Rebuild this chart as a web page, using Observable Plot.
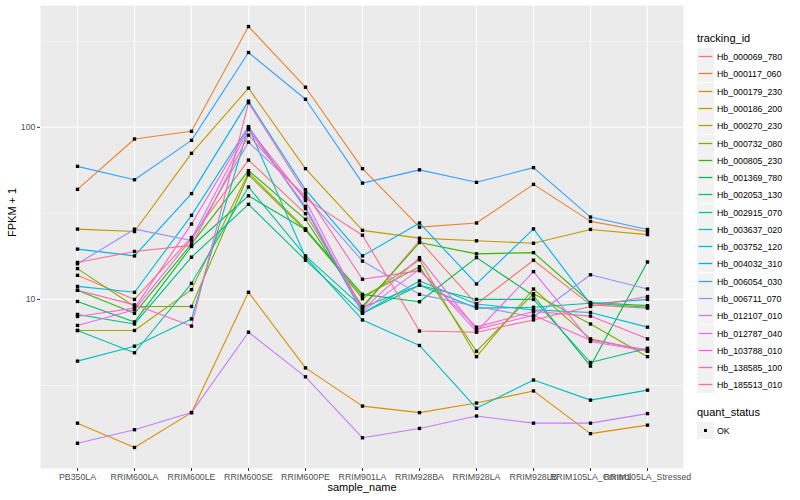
<!DOCTYPE html>
<html>
<head>
<meta charset="utf-8">
<script src="https://cdn.jsdelivr.net/npm/d3@7"></script>
<script src="https://cdn.jsdelivr.net/npm/@observablehq/plot@0.6"></script>
<style>
  html, body { margin: 0; padding: 0; background: #fff; }
  #wrap { position: relative; width: 800px; height: 500px; font-family: "Liberation Sans", Arial, Helvetica, sans-serif; }
  #chart { position: absolute; left: 0; top: 0; }
  .lg-title { position: absolute; left: 697px; font-size: 11px; color: #000; line-height: 14px; }
  .lg-row { position: absolute; left: 697px; height: 17px; display: flex; align-items: center; }
  .lg-row svg { display: block; }
  .lg-lab { margin-left: 3px; font-size: 8.8px; color: #000; white-space: nowrap; }
</style>
</head>
<body>
<div id="wrap"><div id="chart"></div></div>
<script>
const samples = ["PB350LA","RRIM600LA","RRIM600LE","RRIM600SE","RRIM600PE","RRIM901LA","RRIM928BA","RRIM928LA","RRIM928LB","RRIM105LA_Control","RRIM105LA_Stressed"];

const trackingIds = ["Hb_000069_780","Hb_000117_060","Hb_000179_230","Hb_000186_200","Hb_000270_230","Hb_000732_080","Hb_000805_230","Hb_001369_780","Hb_002053_130","Hb_002915_070","Hb_003637_020","Hb_003752_120","Hb_004032_310","Hb_006054_030","Hb_006711_070","Hb_012107_010","Hb_012787_040","Hb_103788_010","Hb_138585_100","Hb_185513_010"];

const colors = ["#F8766D","#EA8331","#D89000","#C09B00","#A3A500","#7CAE00","#39B600","#00BB4E","#00BF7D","#00C1A3","#00BFC4","#00BAE0","#00B0F6","#35A2FF","#9590FF","#C77CFF","#E76BF3","#FA62DB","#FF62BC","#FF6C91"];

// FPKM + 1 per sample (order of `samples`)
const hb_000069_780 = [13.8, 10.0, 22.9, 64.5, 31.5, 8.9, 22.0, 9.4, 16.9, 9.3, 8.9];
const hb_000117_060 = [43.6, 85.5, 94.8, 385, 171, 57.5, 26.3, 27.8, 46.6, 28.4, 24.7];
const hb_000179_230 = [1.91, 1.38, 2.2, 11.0, 4.0, 2.4, 2.2, 2.5, 2.94, 1.66, 1.86];
const hb_000186_200 = [25.6, 24.8, 70.6, 169, 57.5, 25.2, 22.7, 21.9, 21.2, 25.5, 23.8];
const hb_000270_230 = [6.6, 6.6, 11.4, 54.5, 25.7, 10.1, 17.0, 4.65, 11.5, 5.9, 5.0];
const hb_000732_080 = [15.1, 9.1, 9.1, 53, 25.2, 10.4, 15.5, 5.0, 10.8, 7.2, 4.65];
const hb_000805_230 = [11.3, 8.3, 21.0, 56, 29.2, 9.1, 21.4, 18.4, 18.7, 9.6, 9.2];
const hb_001369_780 = [9.73, 7.4, 20.3, 40, 25.5, 10.7, 9.7, 17.5, 10.5, 4.1, 16.5];
const hb_002053_130 = [8.18, 7.2, 17.6, 35.7, 16.9, 8.3, 12.1, 10.0, 10.0, 4.3, 5.2];
const hb_002915_070 = [6.6, 4.9, 12.4, 45, 17.9, 9.0, 12.1, 8.9, 9.0, 9.5, 9.0];
const hb_003637_020 = [4.38, 5.35, 7.7, 100, 17.6, 7.6, 5.4, 2.33, 3.4, 2.6, 2.97];
const hb_003752_120 = [11.9, 11.0, 30.8, 101, 33.7, 8.3, 12.8, 9.4, 8.7, 8.4, 6.9];
const hb_004032_310 = [19.6, 17.9, 41.2, 142, 43.4, 17.9, 27.8, 12.3, 25.7, 9.4, 10.0];
const hb_006054_030 = [59.3, 49.6, 84, 272, 145.5, 47.4, 56.6, 47.9, 58.3, 30.1, 25.5];
const hb_006711_070 = [16.1, 25.6, 22.0, 82, 40, 16.7, 10.7, 9.1, 7.9, 13.9, 11.5];
const hb_012107_010 = [1.46, 1.75, 2.2, 6.45, 3.55, 1.57, 1.78, 2.1, 1.91, 1.91, 2.17];
const hb_012787_040 = [7.06, 8.7, 22.5, 97, 34.7, 8.5, 15.0, 6.5, 14.5, 5.7, 5.0];
const hb_103788_010 = [7.96, 8.9, 27.4, 99, 37.6, 8.7, 17.5, 6.7, 8.1, 5.8, 5.1];
const hb_138585_100 = [11.3, 9.3, 7.0, 139, 41.5, 13.1, 14.7, 6.9, 8.5, 8.0, 5.9];
const hb_185513_010 = [16.4, 19.0, 20.6, 90, 38.5, 23.6, 6.55, 6.45, 7.6, 9.1, 10.4];

const seriesValues = [hb_000069_780, hb_000117_060, hb_000179_230, hb_000186_200, hb_000270_230, hb_000732_080, hb_000805_230, hb_001369_780, hb_002053_130, hb_002915_070, hb_003637_020, hb_003752_120, hb_004032_310, hb_006054_030, hb_006711_070, hb_012107_010, hb_012787_040, hb_103788_010, hb_138585_100, hb_185513_010];

const yTicks = [10, 100];
const yMinor = [10 ** 0.5, 10 ** 1.5, 10 ** 2.5];

const data = [];
trackingIds.forEach((id, i) => {
  samples.forEach((s, j) => data.push({ id, sample: s, value: seriesValues[i][j], status: "OK" }));
});

// ggplot-style 5% expansion in log space
const [lmin, lmax] = d3.extent(data, d => Math.log10(d.value));
const pad = (lmax - lmin) * 0.05;
const yDomain = [10 ** (lmin - pad), 10 ** (lmax + pad)];

const font = "'Liberation Sans', Arial, Helvetica, sans-serif";

const plot = Plot.plot({
  width: 690,
  height: 500,
  marginLeft: 40,
  marginRight: 7,
  marginTop: 5,
  marginBottom: 32,
  style: { fontFamily: font, fontSize: "8.8px", background: "white", overflow: "visible" },
  x: { type: "point", domain: samples, padding: 0.6 },
  y: { type: "log", domain: yDomain },
  color: { domain: trackingIds, range: colors },
  marks: [
    Plot.frame({ fill: "#ebebeb", stroke: null }),
    Plot.gridY(yMinor, { stroke: "white", strokeOpacity: 1, strokeWidth: 0.55 }),
    Plot.gridY(yTicks, { stroke: "white", strokeOpacity: 1, strokeWidth: 1.1 }),
    Plot.gridX(samples, { stroke: "white", strokeOpacity: 1, strokeWidth: 1.1 }),
    Plot.axisX({ tickSize: 3, tickPadding: 2, label: null, stroke: "#333", color: "#4d4d4d" }),
    Plot.axisY(yTicks, { tickSize: 3, tickPadding: 2, label: null, tickFormat: d => String(d), stroke: "#333", color: "#4d4d4d" }),
    Plot.line(data, { x: "sample", y: "value", z: "id", stroke: "id", strokeWidth: 1.1 }),
    Plot.dot(data, { x: "sample", y: "value", fill: "black", stroke: null, r: 1.9, symbol: "square" }),
    Plot.text(["sample_name"], { frameAnchor: "bottom", dy: 22, fontSize: 11, fill: "black" }),
    Plot.text(["FPKM + 1"], { frameAnchor: "left", dx: -28, rotate: -90, fontSize: 11, fill: "black" })
  ]
});
document.getElementById("chart").appendChild(plot);

// legend (right side, ggplot style)
const wrap = document.getElementById("wrap");
const colorScale = plot.scale("color");
const NS = "http://www.w3.org/2000/svg";
function addTitle(text, top) {
  const t = document.createElement("div");
  t.className = "lg-title";
  t.style.top = top + "px";
  t.textContent = text;
  wrap.appendChild(t);
}
function keySvg(color, square) {
  const svg = document.createElementNS(NS, "svg");
  svg.setAttribute("width", 17);
  svg.setAttribute("height", 17);
  const r = document.createElementNS(NS, "rect");
  r.setAttribute("width", 17); r.setAttribute("height", 17); r.setAttribute("fill", "#f2f2f2");
  svg.appendChild(r);
  if (square) {
    const s = document.createElementNS(NS, "rect");
    s.setAttribute("x", 7); s.setAttribute("y", 7); s.setAttribute("width", 3); s.setAttribute("height", 3); s.setAttribute("fill", "#000");
    svg.appendChild(s);
  } else {
    const l = document.createElementNS(NS, "line");
    l.setAttribute("x1", 1.7); l.setAttribute("x2", 15.3); l.setAttribute("y1", 8.5); l.setAttribute("y2", 8.5);
    l.setAttribute("stroke", color); l.setAttribute("stroke-width", 1.3);
    svg.appendChild(l);
  }
  return svg;
}
function addRow(top, label, color, square) {
  const row = document.createElement("div");
  row.className = "lg-row";
  row.style.top = Math.round(top) + "px";
  row.appendChild(keySvg(color, square));
  const lab = document.createElement("div");
  lab.className = "lg-lab";
  lab.textContent = label;
  row.appendChild(lab);
  wrap.appendChild(row);
}
addTitle("tracking_id", 31);
trackingIds.forEach((id, i) => {
  addRow(48.1 + i * 17.28, id, colorScale.range[colorScale.domain.indexOf(id)], false);
});
addTitle("quant_status", 405);
addRow(421.5, "OK", null, true);
</script>
</body>
</html>
